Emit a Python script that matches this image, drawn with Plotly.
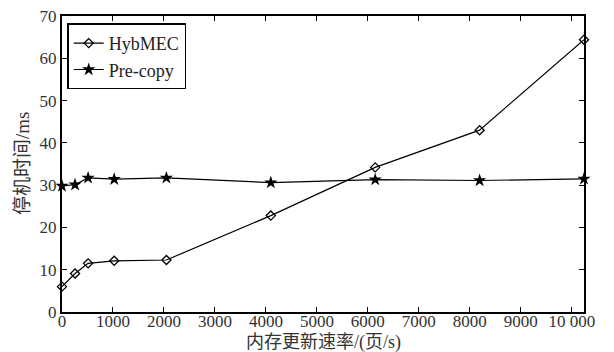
import plotly.graph_objects as go

x_rates = [0, 256, 512, 1024, 2048, 4096, 6144, 8192, 10240]
hybmec = [6.0, 9.1, 11.5, 12.1, 12.3, 22.8, 34.2, 43.0, 64.4]
precopy = [29.8, 30.1, 31.7, 31.4, 31.7, 30.6, 31.3, 31.1, 31.5]
x_ticks = [0, 1000, 2000, 3000, 4000, 5000, 6000, 7000, 8000, 9000, 10000]
x_tick_labels = ["0", "1000", "2000", "3000", "4000", "5000", "6000", "7000", "8000", "9000", "10 000"]
y_ticks = [0, 10, 20, 30, 40, 50, 60, 70]
x_title = "内存更新速率/(页/s)"
y_title = "停机时间/ms"

serif = "Liberation Serif"
cjk = "Liberation Serif, Noto Sans CJK SC"

fig = go.Figure()
fig.add_trace(go.Scatter(
    x=x_rates, y=hybmec, mode="lines+markers", name="HybMEC",
    line=dict(color="black", width=1.2),
    marker=dict(symbol="diamond-open", size=7, color="black", line=dict(width=1.3)),
    cliponaxis=False,
))
fig.add_trace(go.Scatter(
    x=x_rates, y=precopy, mode="lines+markers", name="Pre-copy",
    line=dict(color="black", width=1.2),
    marker=dict(symbol="star", size=10, color="black"),
    cliponaxis=False,
))

fig.update_layout(
    width=614, height=352,
    margin=dict(l=62, r=30, t=16, b=40),
    paper_bgcolor="white", plot_bgcolor="white",
    font=dict(family=serif, size=17, color="#333"),
    showlegend=True,
    legend=dict(
        x=0.01, y=0.975, xanchor="left", yanchor="top",
        bgcolor="white", bordercolor="black", borderwidth=1.5,
        font=dict(family=serif, size=18, color="#222"),
        tracegroupgap=0, itemwidth=30,
    ),
    xaxis=dict(
        range=[0, 10240], tickvals=x_ticks, ticktext=x_tick_labels,
        ticks="inside", ticklen=5, tickcolor="black", mirror="ticks",
        showline=True, linecolor="black", linewidth=1.5, showgrid=False, zeroline=False,
        tickfont=dict(family=serif, size=17, color="#333"), automargin=False,
        ticklabelstandoff=-7,
    ),
    yaxis=dict(
        range=[0, 70], tickvals=y_ticks,
        ticks="inside", ticklen=5, tickcolor="black", mirror="ticks",
        showline=True, linecolor="black", linewidth=2, showgrid=False, zeroline=False,
        tickfont=dict(family=serif, size=17, color="#333"), automargin=False,
    ),
    annotations=[
        dict(text=x_title, xref="paper", yref="paper", x=0.5, y=0, yshift=-30,
             xanchor="center", yanchor="middle", showarrow=False,
             font=dict(family=cjk, size=18, color="#333")),
        dict(text=y_title, xref="paper", yref="paper", x=0, y=0.5, xshift=-40,
             xanchor="center", yanchor="middle", showarrow=False, textangle=-90,
             font=dict(family=cjk, size=19, color="#333")),
    ],
)

fig.write_html("out.html")
